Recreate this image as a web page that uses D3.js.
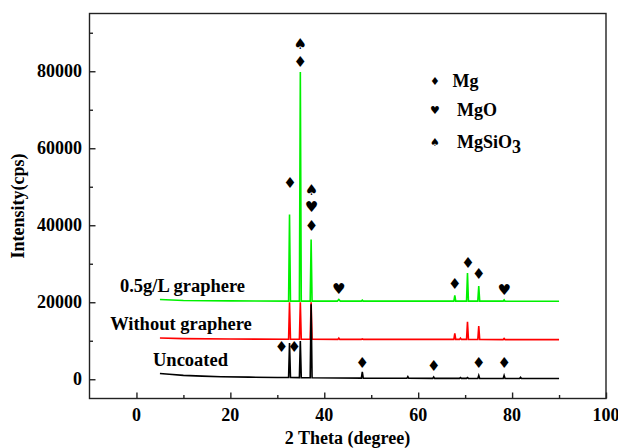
<!DOCTYPE html>
<html>
<head>
<meta charset="utf-8">
<script src="https://cdn.jsdelivr.net/npm/d3@7"></script>
<style>
  body { margin: 0; background: #fff; }
  text { font-family: "Liberation Serif", "Times New Roman", serif; font-weight: bold; fill: #000; }
  .sym { font-family: "DejaVu Sans", sans-serif; font-weight: normal; }
</style>
</head>
<body>
<svg id="chart" width="618" height="448"></svg>
<script>
// XRD patterns, stacked (values as shown on the y axis)
const uncoated = [
    [5, 1500], [7, 1300], [10, 1000], [14, 800], [18, 650], [24, 550], [30, 450],
    [32.4, 450], [32.6, 9400], [32.8, 450], [34.7, 420], [34.9, 9900], [35.1, 420],
    [37.0, 400], [37.2, 19500], [37.4, 400], [47.9, 300], [48.1, 1900], [48.3, 300],
    [57.6, 250], [57.8, 700], [58.0, 250], [63.1, 230], [63.3, 600], [63.5, 230],
    [68.8, 220], [69.0, 450], [69.2, 220], [70.3, 220], [70.5, 450], [70.7, 220],
    [72.7, 210], [72.9, 1000], [73.1, 210], [78.1, 200], [78.3, 1000], [78.5, 200],
    [81.6, 190], [81.8, 500], [82.0, 190], [90, 180]
];
const withoutGraphere = [
    [5, 10700], [10, 10550], [20, 10450], [32.4, 10400], [32.6, 20000], [32.8, 10400],
    [34.7, 10400], [34.9, 20000], [35.1, 10400], [37.0, 10400], [37.2, 20000], [37.4, 10400],
    [42.9, 10350], [43.1, 10700], [43.3, 10350], [47.9, 10350], [48.1, 10500], [48.3, 10350],
    [67.6, 10350], [67.8, 11900], [68.0, 10350], [68.8, 10350], [69.0, 10700], [69.2, 10350],
    [70.3, 10350], [70.5, 14900], [70.7, 10350], [72.7, 10330], [72.9, 13800], [73.1, 10330],
    [78.1, 10300], [78.3, 10600], [78.5, 10300], [90, 10300]
];
const graphere05 = [
    [5, 20700], [10, 20450], [20, 20350], [32.4, 20300], [32.6, 42800], [32.8, 20300],
    [34.7, 20300], [34.9, 79800], [35.1, 20300], [37.0, 20300], [37.2, 36300], [37.4, 20300],
    [42.8, 20300], [43.1, 20700], [43.4, 20300], [47.9, 20300], [48.1, 20550], [48.3, 20300],
    [67.6, 20300], [67.8, 21800], [68.0, 20300], [70.3, 20300], [70.5, 27600], [70.7, 20300],
    [72.7, 20300], [72.9, 24200], [73.1, 20300], [78.1, 20280], [78.3, 20600], [78.5, 20280],
    [90, 20250]
];

// phase markers [2theta, height]
const mgMarks = [[34.9, 82400], [32.7, 51000], [37.3, 39700], [67.8, 24700], [70.6, 30300],
    [72.9, 27450], [30.9, 8400], [33.6, 8400], [48.1, 4300], [63.3, 3450], [72.9, 4300], [78.3, 4300]];
const mgoMarks = [[37.3, 44750], [43.1, 23550], [78.3, 23300]];
const mgsio3Marks = [[34.9, 87200], [37.3, 49100]];

const xTicks = [0, 20, 40, 60, 80, 100];
const xMinor = [10, 30, 50, 70, 90];
const yTicks = [0, 20000, 40000, 60000, 80000];
const yMinor = [10000, 30000, 50000, 70000, 90000];

const svg = d3.select('#chart');
const x = d3.scaleLinear().domain([-10, 100]).range([89.5, 606]);
const y = d3.scaleLinear().domain([-5000, 95000]).range([398.5, 13.5]);

// frame
svg.append('rect')
    .attr('x', 89.5).attr('y', 13.5)
    .attr('width', 516.5).attr('height', 385)
    .attr('fill', 'none').attr('stroke', '#222').attr('stroke-width', 1.4);

// axes with inward ticks
const xAxis = svg.append('g').attr('transform', 'translate(0,398.5)')
    .call(d3.axisTop(x).tickValues(xTicks).tickSize(6).tickFormat(''));
const xAxisMinor = svg.append('g').attr('transform', 'translate(0,398.5)')
    .call(d3.axisTop(x).tickValues(xMinor).tickSize(3.5).tickFormat(''));
const yAxis = svg.append('g').attr('transform', 'translate(89.5,0)')
    .call(d3.axisRight(y).tickValues(yTicks).tickSize(6).tickFormat(''));
const yAxisMinor = svg.append('g').attr('transform', 'translate(89.5,0)')
    .call(d3.axisRight(y).tickValues(yMinor).tickSize(3.5).tickFormat(''));
[xAxis, xAxisMinor, yAxis, yAxisMinor].forEach((g) => {
    g.select('.domain').remove();
    g.selectAll('line').attr('stroke', '#222').attr('stroke-width', 1.4);
});

// tick labels
svg.append('g').selectAll('text').data(xTicks).enter().append('text')
    .attr('x', (d) => x(d)).attr('y', 421)
    .attr('text-anchor', 'middle').attr('font-size', 18)
    .text((d) => d);
svg.append('g').selectAll('text').data(yTicks).enter().append('text')
    .attr('x', 82).attr('y', (d) => y(d) + 6)
    .attr('text-anchor', 'end').attr('font-size', 18)
    .text((d) => d);

// axis titles
svg.append('text')
    .attr('x', 347.5).attr('y', 444)
    .attr('text-anchor', 'middle').attr('font-size', 18)
    .text('2 Theta (degree)');
svg.append('text')
    .attr('transform', 'translate(24,206) rotate(-90)')
    .attr('text-anchor', 'middle').attr('font-size', 18)
    .text('Intensity(cps)');

// patterns
const line = d3.line().x((d) => x(d[0])).y((d) => y(d[1]));
[[graphere05, '#00f000'], [withoutGraphere, '#ff0000'], [uncoated, '#000000']].forEach(([data, color]) => {
    svg.append('path')
        .datum(data)
        .attr('d', line)
        .attr('fill', 'none')
        .attr('stroke', color)
        .attr('stroke-width', 1.6);
});

// series labels
svg.append('text').attr('x', 182.5).attr('y', 291.5).attr('text-anchor', 'middle')
    .attr('font-size', 18.5).text('0.5g/L graphere');
svg.append('text').attr('x', 181).attr('y', 330).attr('text-anchor', 'middle')
    .attr('font-size', 18.5).text('Without graphere');
svg.append('text').attr('x', 190.5).attr('y', 365.5).attr('text-anchor', 'middle')
    .attr('font-size', 18.5).text('Uncoated');

// phase markers
const drawMarks = (data, glyph) => {
    svg.append('g').selectAll('text').data(data).enter().append('text')
        .attr('class', 'sym')
        .attr('x', (d) => x(d[0])).attr('y', (d) => y(d[1]))
        .attr('text-anchor', 'middle').attr('dominant-baseline', 'central')
        .attr('font-size', 15)
        .text(glyph);
};
drawMarks(mgMarks, '\u2666');
drawMarks(mgoMarks, '\u2665');
drawMarks(mgsio3Marks, '\u2660');

// legend
const legend = svg.append('g');
legend.append('text').attr('class', 'sym').attr('x', 435).attr('y', 81)
    .attr('text-anchor', 'middle').attr('dominant-baseline', 'central').attr('font-size', 11).text('\u2666');
legend.append('text').attr('class', 'sym').attr('x', 435).attr('y', 110)
    .attr('text-anchor', 'middle').attr('dominant-baseline', 'central').attr('font-size', 11).text('\u2665');
legend.append('text').attr('class', 'sym').attr('x', 435).attr('y', 142)
    .attr('text-anchor', 'middle').attr('dominant-baseline', 'central').attr('font-size', 11).text('\u2660');
legend.append('text').attr('x', 452.5).attr('y', 87).attr('font-size', 18).text('Mg');
legend.append('text').attr('x', 457).attr('y', 116).attr('font-size', 18).text('MgO');
const mgsio3 = legend.append('text').attr('x', 457).attr('y', 148).attr('font-size', 18);
mgsio3.append('tspan').text('MgSiO');
mgsio3.append('tspan').attr('dy', 5).text('3');
</script>
</body>
</html>
